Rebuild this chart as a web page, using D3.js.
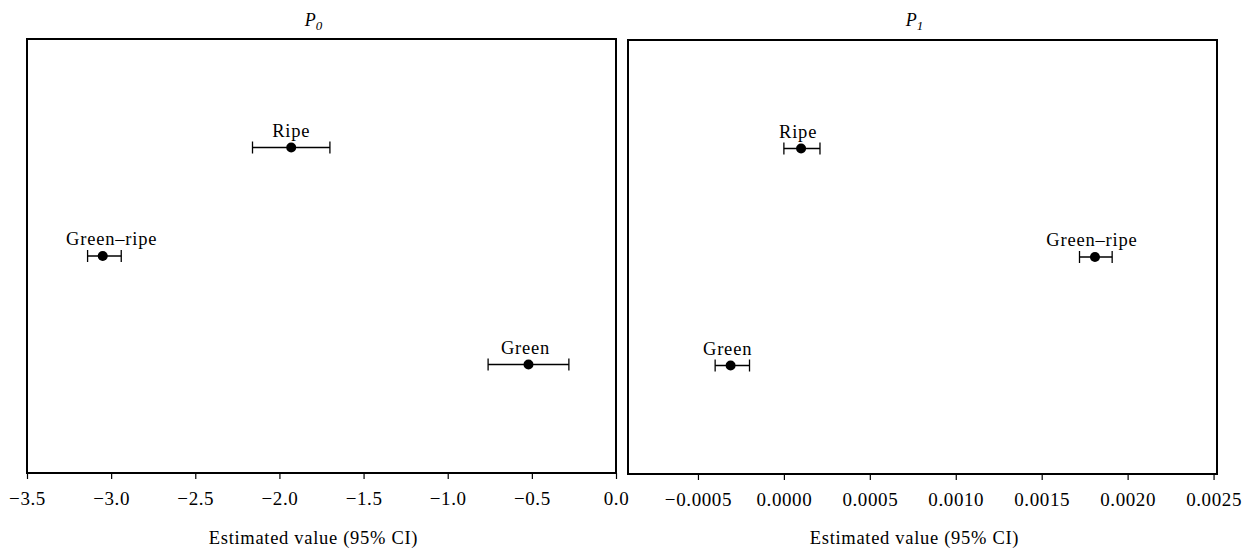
<!DOCTYPE html>
<html>
<head>
<meta charset="utf-8">
<script src="https://cdn.jsdelivr.net/npm/d3@7"></script>
<style>
  body { margin: 0; background: #fff; }
  text { font-family: "Liberation Serif", "DejaVu Serif", serif; fill: #000; }
</style>
</head>
<body>
<svg id="chart" width="1250" height="550"></svg>
<script>
// data
const categories = ["Ripe", "Green–ripe", "Green"];

const p0Estimate = [-1.93, -3.05, -0.52];
const p0Lower = [-2.16, -3.14, -0.76];
const p0Upper = [-1.70, -2.94, -0.28];

const p1Estimate = [0.00010, 0.00181, -0.00031];
const p1Lower = [0.00000, 0.00172, -0.00040];
const p1Upper = [0.00021, 0.00191, -0.00020];

const p0Ticks = [-3.5, -3.0, -2.5, -2.0, -1.5, -1.0, -0.5, 0.0];
const p1Ticks = [-0.0005, 0.0000, 0.0005, 0.0010, 0.0015, 0.0020, 0.0025];

const svg = d3.select("#chart");

const panels = [
  { sub: "0", est: p0Estimate, lo: p0Lower, hi: p0Upper, ticks: p0Ticks, fmt: d3.format(".1f"),
    domain: [-3.5, 0], x0: 27, x1: 616, y0: 39, y1: 473, labelDx: [0, 9, -3] },
  { sub: "1", est: p1Estimate, lo: p1Lower, hi: p1Upper, ticks: p1Ticks, fmt: d3.format(".4f"),
    domain: [-0.000907, 0.00252], x0: 628, x1: 1217, y0: 40, y1: 474, labelDx: [-3, -3, -3] }
];

panels.forEach(p => {
  const x = d3.scaleLinear().domain(p.domain).range([p.x0, p.x1]);
  const y = d3.scalePoint().domain(categories).range([p.y0, p.y1]).padding(1);

  const g = svg.append("g");

  // axis
  const axis = d3.axisBottom(x).tickValues(p.ticks).tickFormat(p.fmt).tickSize(6).tickPadding(13);
  const ax = g.append("g").attr("transform", `translate(0,${p.y1})`).call(axis);
  ax.select(".domain").remove();
  ax.selectAll(".tick line").attr("stroke", "#000").attr("stroke-width", 1.2);
  ax.selectAll(".tick text")
    .attr("font-size", 19)
    .attr("letter-spacing", 0.6)
    .style("font-family", "Liberation Serif");

  // frame
  g.append("rect")
    .attr("x", p.x0).attr("y", p.y0)
    .attr("width", p.x1 - p.x0).attr("height", p.y1 - p.y0)
    .attr("fill", "none").attr("stroke", "#000").attr("stroke-width", 2);

  // title
  const t = g.append("text")
    .attr("x", (p.x0 + p.x1) / 2 - 8).attr("y", 26)
    .attr("text-anchor", "middle")
    .attr("font-size", 18).attr("font-style", "italic");
  t.append("tspan").text("P");
  t.append("tspan").attr("dy", 4).attr("font-size", 13).text(p.sub);

  // x label
  g.append("text")
    .attr("x", (p.x0 + p.x1) / 2 - 8).attr("y", 544)
    .attr("text-anchor", "middle").attr("font-size", 18.5)
    .attr("letter-spacing", 0.7)
    .text("Estimated value (95% CI)");

  // error bars
  const pts = g.selectAll(".pt").data(categories).join("g").attr("class", "pt");
  pts.append("line")
    .attr("x1", (d, i) => x(p.lo[i])).attr("x2", (d, i) => x(p.hi[i]))
    .attr("y1", d => y(d)).attr("y2", d => y(d))
    .attr("stroke", "#000").attr("stroke-width", 1.3);
  pts.append("line")
    .attr("x1", (d, i) => x(p.lo[i])).attr("x2", (d, i) => x(p.lo[i]))
    .attr("y1", d => y(d) - 6).attr("y2", d => y(d) + 6)
    .attr("stroke", "#000").attr("stroke-width", 1.3);
  pts.append("line")
    .attr("x1", (d, i) => x(p.hi[i])).attr("x2", (d, i) => x(p.hi[i]))
    .attr("y1", d => y(d) - 6).attr("y2", d => y(d) + 6)
    .attr("stroke", "#000").attr("stroke-width", 1.3);
  pts.append("circle")
    .attr("cx", (d, i) => x(p.est[i])).attr("cy", d => y(d))
    .attr("r", 5).attr("fill", "#000");
  pts.append("text")
    .attr("x", (d, i) => x(p.est[i]) + p.labelDx[i]).attr("y", d => y(d) - 11)
    .attr("text-anchor", "middle").attr("font-size", 18.5)
    .attr("letter-spacing", 0.8)
    .text(d => d);
});
</script>
</body>
</html>
